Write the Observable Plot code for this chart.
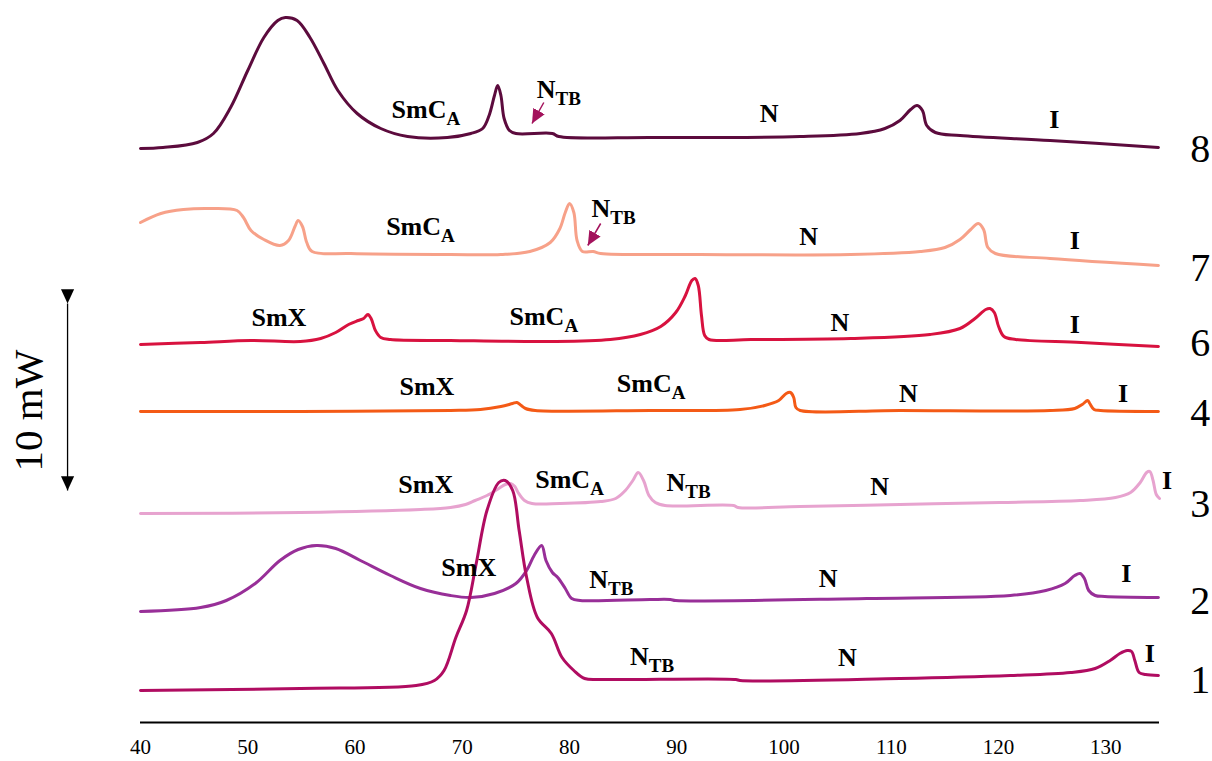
<!DOCTYPE html>
<html><head><meta charset="utf-8">
<script src="https://cdn.jsdelivr.net/npm/d3@7"></script>
<script src="https://cdn.jsdelivr.net/npm/@observablehq/plot@0.6"></script>
<style>body{margin:0;background:#fff}</style>
</head><body><div id="chart"></div>
<script>
// DSC traces: [temperature °C, offset heat flow (arbitrary, 1 unit = 0.5 mW approx)]
const curve8 = [[40,57.4],[42.1,57.5],[45.3,58.0],[46.8,58.9],[48.4,61.5],[50.0,65.2],[51.5,68.5],[52.8,70.2],[53.5,70.5],[54.6,70.2],[55.8,68.5],[57.1,65.9],[58.4,63.2],[60.2,60.9],[62.4,59.4],[64.9,58.6],[68.6,58.5],[70.8,58.9],[71.9,59.4],[72.5,60.7],[73.0,62.7],[73.3,63.7],[73.6,62.7],[73.9,60.4],[74.4,59.2],[75.0,58.9],[78.4,58.9],[79.0,58.6],[87.5,58.5],[101.5,58.6],[107.1,58.9],[109.4,59.4],[110.8,60.2],[111.8,61.3],[112.4,61.7],[112.9,61.2],[113.3,59.7],[114.1,59.0],[116.4,58.7],[124.8,58.2],[134.9,57.5]];
const curve7 = [[40,50.0],[41.9,50.9],[44.0,51.3],[46.5,51.4],[49.0,51.2],[49.6,50.5],[50.3,49.2],[51.5,48.3],[53.0,47.7],[53.8,48.2],[54.4,49.6],[54.7,50.2],[55.1,49.6],[55.5,48.0],[56.0,47.1],[59.6,46.9],[68.9,46.8],[73.6,46.8],[76.3,47.1],[78.2,48.0],[79.1,49.4],[79.6,51.0],[80.0,51.9],[80.4,51.0],[80.7,48.2],[81.2,47.1],[82.2,47.1],[82.9,46.9],[92.2,46.8],[106.2,46.8],[112.7,47.1],[115.0,47.5],[116.4,48.3],[117.4,49.3],[118.1,49.9],[118.6,49.3],[119.0,47.5],[119.7,46.9],[124.8,46.4],[134.9,45.7]];
const curve6 = [[40,37.8],[45.6,38.0],[50.3,38.2],[54.9,38.1],[56.8,38.4],[58.2,39.0],[59.4,39.8],[60.3,40.2],[60.8,40.4],[61.2,40.8],[61.5,40.4],[61.9,39.2],[62.4,38.5],[63.3,38.3],[68.9,38.2],[78.2,38.1],[83.8,38.3],[86.6,38.8],[88.5,39.6],[89.9,41.0],[90.8,42.7],[91.4,44.2],[91.7,44.4],[92.0,43.7],[92.3,40.7],[92.6,38.7],[93.0,38.3],[96.9,38.3],[106.2,38.4],[113.6,38.8],[116.4,39.4],[117.8,40.4],[118.8,41.3],[119.2,41.4],[119.6,41.0],[120.0,39.6],[120.5,38.6],[121.6,38.3],[127.7,38.0],[134.9,37.6]];
const curve4 = [[40,31.1],[54.9,31.1],[68.9,31.2],[71.7,31.3],[73.6,31.6],[74.7,31.9],[75.1,32.0],[75.5,31.7],[75.9,31.4],[76.8,31.2],[87.5,31.2],[95.9,31.3],[98.2,31.7],[99.5,32.2],[100.2,32.9],[100.6,33.0],[100.9,32.5],[101.1,31.5],[101.5,31.2],[110.8,31.2],[124.8,31.2],[127.1,31.4],[127.8,31.8],[128.3,32.2],[128.5,31.9],[128.9,31.3],[129.5,31.2],[134.9,31.1]];
const curve3 = [[40,20.9],[54.9,21.0],[66.1,21.3],[68.9,21.5],[70.3,21.8],[71.2,22.2],[72.3,22.7],[73.4,23.4],[74.0,23.8],[74.5,23.9],[74.9,23.6],[75.2,23.0],[75.8,22.2],[76.5,21.9],[79.1,21.9],[82.9,22.1],[84.3,22.4],[85.2,23.2],[85.9,24.2],[86.4,25.0],[86.9,24.2],[87.4,22.7],[88.0,22.0],[88.9,21.7],[95.3,21.7],[95.7,21.5],[101.5,21.6],[110.8,21.8],[120.1,22.0],[127.6,22.2],[130.9,22.5],[132.3,23.0],[133.2,24.0],[133.8,25.0],[134.1,25.1],[134.4,24.2],[134.7,22.8],[135.0,22.4]];
const curve2 = [[40,11.1],[45.6,11.5],[48.0,12.2],[50.7,13.9],[53.0,16.2],[54.7,17.3],[56.4,17.7],[58.2,17.4],[60.5,16.2],[63.3,14.7],[66.1,13.4],[68.9,12.7],[70.8,12.5],[73.0,12.9],[75.0,13.9],[76.0,15.2],[76.7,16.7],[77.4,17.7],[77.8,16.2],[78.4,15.0],[78.9,14.5],[79.6,13.4],[80.2,12.4],[81.0,12.2],[87.5,12.3],[89.4,12.3],[89.9,12.2],[107.7,12.4],[121.1,12.7],[124.4,13.2],[126.2,13.9],[127.1,14.7],[127.6,14.9],[128.0,14.4],[128.4,13.2],[129.0,12.7],[129.9,12.6],[134.9,12.5]];
const curve1 = [[40,3.2],[54.9,3.4],[65.7,3.7],[67.4,4.2],[68.3,5.2],[69.4,8.5],[70.4,11.2],[71.3,15.9],[72.3,21.2],[73.4,24.0],[74.0,24.2],[74.7,23.2],[75.3,19.2],[76.0,14.5],[77.0,10.5],[78.3,8.9],[79.3,6.5],[80.4,5.2],[81.4,4.4],[83.0,4.3],[95.5,4.3],[95.9,4.2],[110.8,4.4],[121.1,4.7],[126.7,5.0],[129.0,5.4],[130.4,6.2],[131.3,6.9],[132.0,7.2],[132.4,7.1],[132.7,6.2],[133.1,5.0],[133.7,4.8],[134.9,4.7]];

const curveIds = ["8","7","6","4","3","2","1"];
const curveColors = ["#5c0b3d","#f7a189","#d8123f","#f45a16","#e7a3cf","#982f98","#b00c61"];
const curveSeries = [curve8, curve7, curve6, curve4, curve3, curve2, curve1];
const idT = 138.8;
const idY = [57.3, 45.4, 37.9, 30.9, 21.8, 12.1, 4.2];

const phaseText = ["SmC_A","N_TB","N","I", "SmC_A","N_TB","N","I", "SmX","SmC_A","N","I", "SmX","SmC_A","N","I", "SmX","SmC_A","N_TB","N","I", "SmX","N_TB","N","I", "N_TB","N","I"];
const phaseT = [66.6,79.0,98.6,125.2, 66.1,84.1,102.3,127.1, 52.9,77.6,105.2,127.1, 66.7,87.6,111.6,131.6, 66.6,80.0,91.1,108.9,135.7, 70.6,83.9,104.1,131.9, 87.7,105.9,134.1];
const phaseY = [61.3,63.3,60.9,60.3, 49.6,51.4,48.6,48.2, 40.5,40.6,40.0,39.8, 33.6,33.9,32.9,32.9, 23.8,24.3,24.0,23.6,24.2, 15.5,14.3,14.4,14.9, 6.6,6.5,6.9];

// N_TB pointer arrows (curves 8 and 7)
const ptrT1 = [77.6, 82.9], ptrY1 = [62.0, 49.9];
const ptrT2 = [76.5, 81.7], ptrY2 = [59.9, 47.7];
// 10 mW scale bar
const barT = 33.2, barY1 = 41.9, barY2 = 23.2;
const barLabel = "10 mW", barLabelT = 29.6, barLabelY = 31.2;

const xTicks = [40,50,60,70,80,90,100,110,120,130];

const serif = "Liberation Serif, Times New Roman, serif";
const phases = phaseText.map((t,i)=>({t, x: phaseT[i], y: phaseY[i]}));
const ids = curveIds.map((t,i)=>({t, x: idT, y: idY[i]}));
const ptrs = ptrT1.map((d,i)=>({x1: d, y1: ptrY1[i], x2: ptrT2[i], y2: ptrY2[i]}));

const marks = [
  Plot.ruleY([0], {stroke: "#000", strokeWidth: 2}),
  Plot.axisX({ticks: xTicks, tickSize: 0, tickPadding: 17, fontSize: 21, label: null}),
  ...curveSeries.map((s,i)=>Plot.line(s, {x: d=>d[0], y: d=>d[1], stroke: curveColors[i], strokeWidth: 3, curve: "catmull-rom"})),
  Plot.link(ptrs, {x1:"x1", y1:"y1", x2:"x2", y2:"y2", stroke: "#a3125c", strokeWidth: 1.5, markerEnd: "arrow"}),
  Plot.link([{x: barT, y1: barY1, y2: barY2}], {x1:"x", x2:"x", y1:"y1", y2:"y2", stroke: "#000", strokeWidth: 1.3, markerStart: "arrow", markerEnd: "arrow"}),
  Plot.text(phases, {x:"x", y:"y", text:"t", fontSize: 26, fontWeight: "bold", fontFamily: serif, fill: "#000", textAnchor: "middle", lineAnchor: "middle"}),
  Plot.text(ids, {x:"x", y:"y", text:"t", fontSize: 40, fontFamily: serif, fill: "#000", textAnchor: "middle", lineAnchor: "middle"}),
  Plot.text([{t: barLabel, x: barLabelT, y: barLabelY}], {x:"x", y:"y", text:"t", rotate: -90, fontSize: 41, fontFamily: serif, fill: "#000", textAnchor: "middle", lineAnchor: "middle"})
];

const svg = Plot.plot({
  width: 1212, height: 761,
  marginLeft: 140, marginRight: 53, marginTop: 0, marginBottom: 39,
  x: {domain: [40, 135]},
  y: {domain: [0, 72.2], axis: null},
  style: {fontFamily: serif, background: "#fff", color: "#000"},
  marks
});

// tick label size
d3.select(svg).selectAll('g[aria-label="x-axis tick label"]').attr("font-size", 21).style("font-size", "21px");

// subscripts for SmC_A and N_TB
d3.select(svg).selectAll("text").each(function(){
  const t = this.textContent;
  const m = t.match(/^([A-Za-z]+)_([A-Za-z]+)$/);
  if (m && this.childElementCount === 0) {
    this.textContent = "";
    const sel = d3.select(this);
    sel.append("tspan").text(m[1]);
    sel.append("tspan").attr("font-size", "19px").attr("dy", "7").text(m[2]);
  }
});
// filled triangular arrowheads
d3.select(svg).selectAll("marker").each(function(){
  const color = this.getAttribute("stroke") || "#000";
  const size = color === "#000" || color === "black" ? 11 : 9.5;
  const mk = d3.select(this);
  mk.attr("viewBox", "-10 -5 10 10").attr("markerWidth", size).attr("markerHeight", size)
    .attr("fill", color).attr("stroke", "none");
  mk.selectAll("*").remove();
  mk.append("path").attr("d", "M-10,-4.6L0,0L-10,4.6Z").attr("fill", color).attr("stroke", "none");
});

document.getElementById("chart").appendChild(svg);
</script>
</body></html>
